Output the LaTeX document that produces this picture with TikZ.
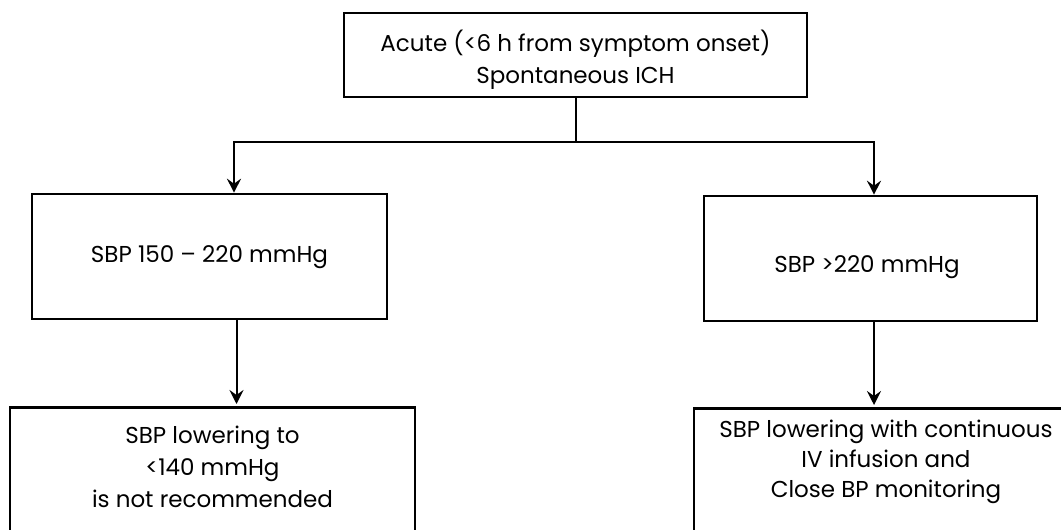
\documentclass[tikz,border=0pt]{standalone}
\usepackage{fontspec}
\setmainfont{Poppins}
\usetikzlibrary{arrows.meta}
\begin{document}
\begin{tikzpicture}[x=1pt,y=1pt,
  box/.style={draw, line width=2.6pt, rectangle, inner sep=0pt},
  txt/.style={align=center, inner sep=0pt, font=\fontsize{23}{32}\selectfont},
  arr/.style={line width=2pt, line join=miter, -{Stealth[length=14pt,width=14pt,inset=5pt]}}]
\useasboundingbox (0,0) rectangle (1061,-530);
\clip (0,0) rectangle (1061,-530);
% boxes
\node[box, minimum width=463pt, minimum height=84pt] (top) at (575.5,-55) {};
\node[box, minimum width=355pt, minimum height=125pt] (ml) at (209.5,-256.5) {};
\node[box, minimum width=333pt, minimum height=125pt] (mr) at (870.5,-258.5) {};
\node[box, minimum width=405pt, minimum height=200pt, anchor=north] (bl) at (212.5,-406) {};
\node[box, minimum width=420pt, minimum height=200pt, anchor=north] (br) at (904,-407) {};
% texts
\node[txt] (ttop) at (575.5,-60) {Acute (<6 h from symptom onset)\\Spontaneous ICH};
\node[txt] (tml) at (209.5,-257) {SBP 150 – 220 mmHg};
\node[txt] (tmr) at (867,-267.5) {SBP >220 mmHg};
\node[txt] (tbl) at (212.5,-467) {SBP lowering to\\<140 mmHg\\is not recommended};
\node[txt, font=\fontsize{23}{30}\selectfont] (tbr) at (886,-462) {SBP lowering with continuous\\IV infusion and\\Close BP monitoring};
% connectors
\coordinate (jl) at (234,-142);
\coordinate (jr) at (874,-142);
\coordinate (cl) at (236.5,0);
\draw[arr] (top.south) |- (jl) -- (jl |- ml.north);
\draw[arr] (top.south) |- (jr) -- (jr |- mr.north);
\draw[arr] (ml.south -| cl) -- ([yshift=2pt]bl.north -| cl);
\draw[arr] (mr.south -| jr) -- ([yshift=2pt]br.north -| jr);
\end{tikzpicture}
\end{document}
